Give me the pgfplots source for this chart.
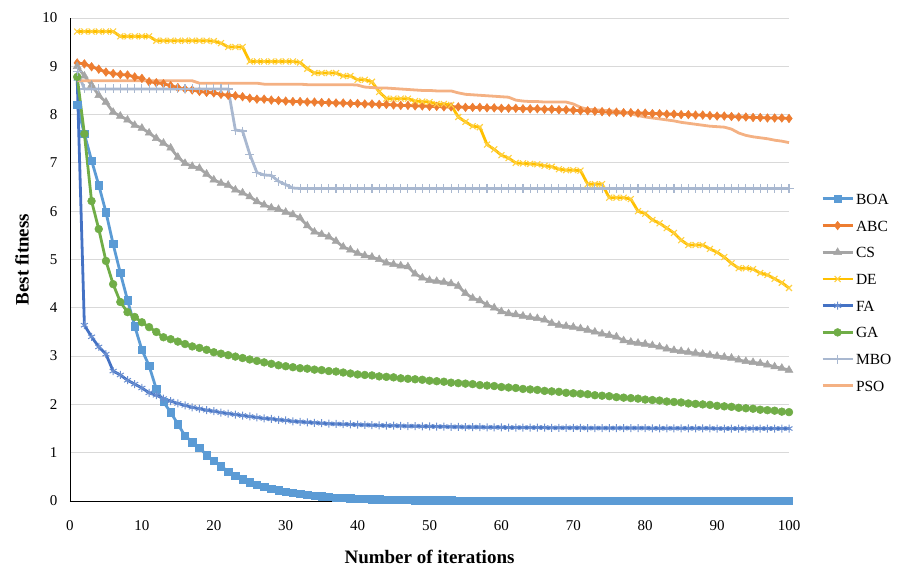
\documentclass[border=0pt]{standalone}
\usepackage{pgfplots}
\pgfplotsset{compat=1.18}
\usepackage{pgfplotstable}
\usepackage{fontspec}
\setmainfont{Liberation Serif}
\definecolor{cBOA}{HTML}{5B9BD5}
\definecolor{cABC}{HTML}{ED7D31}
\definecolor{cCS}{HTML}{A5A5A5}
\definecolor{cDE}{HTML}{FFC000}
\definecolor{cFA}{HTML}{4472C4}
\definecolor{cGA}{HTML}{70AD47}
\definecolor{cMBO}{HTML}{A9B8D0}
\definecolor{cPSO}{HTML}{F4B183}
\definecolor{cGrid}{HTML}{D9D9D9}
\pgfplotstableread{
x BOA ABC CS DE FA GA MBO PSO
1 8.20 9.07 9.00 9.72 8.75 8.78 8.90 8.70
2 7.60 9.05 8.80 9.72 3.64 7.60 8.53 8.70
3 7.05 8.99 8.61 9.72 3.40 6.21 8.53 8.70
4 6.54 8.94 8.40 9.72 3.19 5.63 8.53 8.70
5 5.98 8.88 8.26 9.72 3.04 4.97 8.53 8.70
6 5.32 8.85 8.05 9.72 2.69 4.49 8.53 8.70
7 4.72 8.83 7.97 9.62 2.61 4.12 8.53 8.70
8 4.16 8.82 7.89 9.62 2.50 3.91 8.53 8.70
9 3.62 8.78 7.78 9.62 2.42 3.81 8.53 8.70
10 3.13 8.75 7.72 9.62 2.34 3.70 8.53 8.70
11 2.80 8.68 7.62 9.62 2.24 3.60 8.53 8.70
12 2.32 8.66 7.51 9.53 2.19 3.50 8.53 8.70
13 2.05 8.64 7.41 9.53 2.12 3.39 8.53 8.70
14 1.84 8.60 7.31 9.53 2.07 3.35 8.53 8.70
15 1.59 8.56 7.12 9.53 2.02 3.30 8.53 8.70
16 1.35 8.53 6.99 9.53 1.98 3.25 8.53 8.70
17 1.22 8.51 6.93 9.53 1.94 3.20 8.53 8.70
18 1.10 8.48 6.89 9.53 1.91 3.17 8.53 8.65
19 0.95 8.46 6.77 9.53 1.88 3.13 8.53 8.65
20 0.83 8.45 6.65 9.52 1.86 3.08 8.53 8.65
21 0.72 8.42 6.58 9.48 1.83 3.05 8.53 8.65
22 0.61 8.40 6.54 9.40 1.81 3.02 8.53 8.65
23 0.52 8.39 6.44 9.40 1.79 2.99 7.68 8.65
24 0.45 8.37 6.38 9.40 1.77 2.96 7.66 8.65
25 0.39 8.34 6.30 9.10 1.75 2.93 7.18 8.65
26 0.34 8.32 6.20 9.10 1.73 2.90 6.80 8.65
27 0.29 8.32 6.13 9.10 1.71 2.87 6.75 8.63
28 0.25 8.30 6.07 9.10 1.70 2.84 6.74 8.63
29 0.22 8.29 6.04 9.10 1.68 2.81 6.62 8.63
30 0.19 8.28 5.98 9.10 1.67 2.79 6.55 8.63
31 0.165 8.27 5.93 9.10 1.65 2.77 6.48 8.63
32 0.145 8.27 5.86 9.08 1.64 2.75 6.47 8.63
33 0.125 8.26 5.70 8.95 1.63 2.74 6.47 8.62
34 0.11 8.26 5.57 8.86 1.62 2.72 6.47 8.62
35 0.095 8.25 5.52 8.86 1.61 2.71 6.47 8.62
36 0.083 8.25 5.47 8.86 1.60 2.69 6.47 8.62
37 0.072 8.24 5.38 8.86 1.595 2.68 6.47 8.62
38 0.063 8.24 5.26 8.80 1.59 2.66 6.47 8.62
39 0.055 8.23 5.20 8.80 1.585 2.64 6.47 8.62
40 0.048 8.23 5.13 8.72 1.58 2.62 6.47 8.61
41 0.042 8.22 5.08 8.72 1.575 2.61 6.47 8.57
42 0.037 8.22 5.05 8.68 1.57 2.60 6.47 8.56
43 0.033 8.21 5.00 8.47 1.565 2.58 6.47 8.55
44 0.029 8.21 4.93 8.33 1.56 2.57 6.47 8.55
45 0.026 8.20 4.90 8.33 1.56 2.56 6.47 8.54
46 0.023 8.19 4.87 8.33 1.555 2.54 6.47 8.53
47 0.021 8.19 4.85 8.33 1.55 2.53 6.47 8.52
48 0.019 8.18 4.70 8.28 1.55 2.52 6.47 8.51
49 0.017 8.18 4.62 8.27 1.545 2.51 6.47 8.50
50 0.015 8.17 4.57 8.26 1.545 2.49 6.47 8.50
51 0.014 8.17 4.55 8.22 1.54 2.48 6.47 8.49
52 0.013 8.16 4.53 8.22 1.54 2.47 6.47 8.49
53 0.012 8.16 4.50 8.20 1.535 2.45 6.47 8.49
54 0.011 8.16 4.45 7.95 1.535 2.44 6.47 8.45
55 0.010 8.15 4.30 7.85 1.53 2.43 6.47 8.42
56 0.010 8.15 4.20 7.76 1.53 2.42 6.47 8.41
57 0.009 8.15 4.15 7.74 1.53 2.40 6.47 8.40
58 0.009 8.14 4.06 7.38 1.525 2.39 6.47 8.39
59 0.008 8.14 4.00 7.28 1.525 2.38 6.47 8.38
60 0.008 8.13 3.92 7.16 1.525 2.36 6.47 8.37
61 0.008 8.13 3.88 7.10 1.52 2.35 6.47 8.36
62 0.007 8.13 3.86 7.00 1.52 2.34 6.47 8.30
63 0.007 8.12 3.83 6.99 1.52 2.32 6.47 8.28
64 0.007 8.12 3.80 6.98 1.52 2.31 6.47 8.27
65 0.007 8.12 3.78 6.97 1.52 2.30 6.47 8.27
66 0.006 8.11 3.75 6.94 1.52 2.28 6.47 8.26
67 0.006 8.11 3.68 6.92 1.515 2.27 6.47 8.26
68 0.006 8.10 3.64 6.87 1.515 2.26 6.47 8.26
69 0.006 8.10 3.62 6.85 1.515 2.24 6.47 8.26
70 0.006 8.09 3.60 6.85 1.515 2.23 6.47 8.22
71 0.006 8.08 3.57 6.84 1.515 2.22 6.47 8.15
72 0.005 8.08 3.54 6.56 1.51 2.21 6.47 8.11
73 0.005 8.07 3.50 6.56 1.51 2.19 6.47 8.10
74 0.005 8.06 3.46 6.56 1.51 2.18 6.47 8.09
75 0.005 8.05 3.43 6.28 1.51 2.17 6.47 8.08
76 0.005 8.05 3.40 6.28 1.51 2.15 6.47 8.07
77 0.005 8.04 3.32 6.28 1.51 2.14 6.47 8.05
78 0.005 8.04 3.29 6.25 1.51 2.13 6.47 8.02
79 0.005 8.03 3.27 6.00 1.51 2.12 6.47 7.98
80 0.005 8.03 3.25 5.95 1.51 2.10 6.47 7.95
81 0.004 8.02 3.22 5.82 1.505 2.09 6.47 7.93
82 0.004 8.02 3.19 5.75 1.505 2.08 6.47 7.91
83 0.004 8.01 3.15 5.65 1.505 2.06 6.47 7.89
84 0.004 8.01 3.12 5.55 1.505 2.05 6.47 7.87
85 0.004 8.00 3.10 5.40 1.505 2.04 6.47 7.84
86 0.004 8.00 3.08 5.30 1.505 2.02 6.47 7.82
87 0.004 7.99 3.06 5.30 1.505 2.01 6.47 7.80
88 0.004 7.99 3.04 5.30 1.505 2.00 6.47 7.78
89 0.004 7.98 3.02 5.22 1.505 1.99 6.47 7.76
90 0.004 7.97 3.00 5.15 1.50 1.97 6.47 7.75
91 0.004 7.97 2.98 5.05 1.50 1.96 6.47 7.74
92 0.004 7.96 2.96 4.92 1.50 1.95 6.47 7.70
93 0.004 7.95 2.92 4.82 1.50 1.93 6.47 7.62
94 0.004 7.95 2.89 4.82 1.50 1.92 6.47 7.57
95 0.004 7.94 2.87 4.80 1.50 1.91 6.47 7.54
96 0.004 7.94 2.85 4.72 1.50 1.89 6.47 7.52
97 0.004 7.93 2.82 4.68 1.50 1.88 6.47 7.50
98 0.004 7.93 2.78 4.60 1.50 1.87 6.47 7.47
99 0.004 7.93 2.75 4.52 1.50 1.85 6.47 7.45
100 0.004 7.92 2.71 4.41 1.50 1.84 6.47 7.42
}\data
\begin{document}
\begin{tikzpicture}
\begin{axis}[
  scale only axis,
  width=719bp, height=483bp,
  xmin=0, xmax=100, ymin=0, ymax=10,
  xtick={0,10,...,100}, ytick={0,1,...,10},
  axis x line*=bottom, axis y line*=left,
  axis line style={black, line width=0.8bp, -},
  major tick length=0pt,
  ymajorgrids, grid style={cGrid, line width=0.8bp},
  clip=false,
  /pgf/number format/assume math mode=true,
  tick label style={font=\fontsize{15bp}{18bp}\selectfont},
  xticklabel style={yshift=-16bp},
  yticklabel style={xshift=-9bp},
  xlabel={Number of iterations},
  ylabel={Best fitness},
  every axis x label/.style={at={(axis description cs:0.5,-0.1284)}, anchor=base, font=\fontsize{19bp}{22bp}\selectfont\bfseries},
  every axis y label/.style={at={(axis description cs:-0.0668,0.5)}, anchor=center, rotate=90, font=\fontsize{19bp}{22bp}\selectfont\bfseries},
  legend cell align=left,
  legend style={draw=none, fill=none, at={(axis description cs:1,0.432)}, anchor=west, xshift=32bp,
    font=\fontsize{15.5bp}{18bp}\selectfont, inner sep=0pt, row sep=11.7bp,
    nodes={inner sep=2bp, text height=11bp, text depth=0bp}},
  legend image code/.code={\draw[mark repeat=2,mark phase=2] plot coordinates {(0bp,0bp) (15bp,0bp) (30bp,0bp)};},
  every axis plot/.append style={line width=2.8bp},
]
\coordinate (O) at (axis cs:0,0);
\addplot[cBOA, mark=square*, mark size=3.7bp, mark options={solid, line width=0.5bp, fill=cBOA}] table[x=x, y=BOA] {\data};
\addlegendentry{BOA}
\addplot[cABC, mark=diamond*, mark size=4.3bp, mark options={solid, line width=0.5bp, fill=cABC}] table[x=x, y=ABC] {\data};
\addlegendentry{ABC}
\addplot[cCS, mark=triangle*, mark size=4.5bp, mark options={solid, line width=0.5bp, fill=cCS}] table[x=x, y=CS] {\data};
\addlegendentry{CS}
\addplot[cDE, mark=x, mark size=4.2bp, mark options={solid, line width=1.1bp, draw=cDE!75}] table[x=x, y=DE] {\data};
\addlegendentry{DE}
\addplot[cFA, mark=asterisk, mark size=4bp, mark options={solid, line width=1bp, draw=cFA!80}] table[x=x, y=FA] {\data};
\addlegendentry{FA}
\addplot[cGA, mark=*, mark size=3.9bp, mark options={solid, line width=0.5bp, fill=cGA}] table[x=x, y=GA] {\data};
\addlegendentry{GA}
\addplot[cMBO, mark=+, mark size=4.5bp, mark options={solid, line width=1.1bp}] table[x=x, y=MBO] {\data};
\addlegendentry{MBO}
\addplot[cPSO, no marks] table[x=x, y=PSO] {\data};
\addlegendentry{PSO}
\end{axis}
\pgfresetboundingbox
\path (O) ++(-70bp,-67bp) rectangle ++(909bp,568bp);
\end{tikzpicture}
\end{document}
